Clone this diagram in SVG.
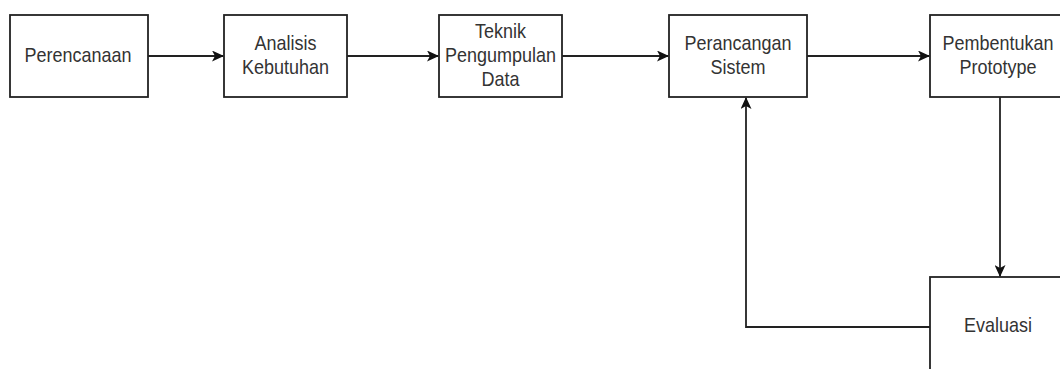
<svg xmlns="http://www.w3.org/2000/svg" width="1060" height="369" viewBox="0 0 1060 369">
<style>
.box{fill:#fff;stroke:#222;stroke-width:1.8}
.lbl{font-family:"Liberation Sans",Arial,sans-serif;font-size:18px;fill:#333;text-anchor:middle}
.edge{fill:none;stroke:#222;stroke-width:1.8}
</style>
<defs>
<marker id="arr" viewBox="0 0 12 11" refX="11" refY="5.5" markerWidth="12" markerHeight="11" markerUnits="userSpaceOnUse" orient="auto">
<path d="M0,0 L12,5.5 L0,11 L3,5.5 Z" fill="#111"/>
</marker>
</defs>
<rect width="1060" height="369" fill="#fff"/>
<g id="n1"><rect class="box" x="10" y="15" width="138" height="82"/>
<text class="lbl" transform="translate(78,62) scale(1,1.15)">Perencanaan</text></g>
<g id="n2"><rect class="box" x="224" y="15" width="123" height="82"/>
<text class="lbl" transform="translate(285.5,50) scale(1,1.15)">Analisis</text>
<text class="lbl" transform="translate(285.5,74) scale(1,1.15)">Kebutuhan</text></g>
<g id="n3"><rect class="box" x="439" y="15" width="123" height="82"/>
<text class="lbl" transform="translate(500.5,38) scale(1,1.15)">Teknik</text>
<text class="lbl" transform="translate(500.5,62) scale(1,1.15)">Pengumpulan</text>
<text class="lbl" transform="translate(500.5,86) scale(1,1.15)">Data</text></g>
<g id="n4"><rect class="box" x="669" y="15" width="138" height="82"/>
<text class="lbl" transform="translate(738,50) scale(1,1.15)">Perancangan</text>
<text class="lbl" transform="translate(738,74) scale(1,1.15)">Sistem</text></g>
<g id="n5"><rect class="box" x="930" y="15" width="138" height="82"/>
<text class="lbl" transform="translate(998,50) scale(1,1.15)">Pembentukan</text>
<text class="lbl" transform="translate(998,74) scale(1,1.15)">Prototype</text></g>
<g id="n6"><rect class="box" x="930" y="277" width="138" height="100"/>
<text class="lbl" transform="translate(998,332) scale(1,1.15)">Evaluasi</text></g>
<g id="edges">
<path class="edge" d="M148,56 H223" marker-end="url(#arr)"/>
<path class="edge" d="M347,56 H438" marker-end="url(#arr)"/>
<path class="edge" d="M562,56 H668" marker-end="url(#arr)"/>
<path class="edge" d="M807,56 H929" marker-end="url(#arr)"/>
<path class="edge" d="M1000,97 V276" marker-end="url(#arr)"/>
<path class="edge" d="M930,327 H746 V98" marker-end="url(#arr)"/>
</g>
</svg>
